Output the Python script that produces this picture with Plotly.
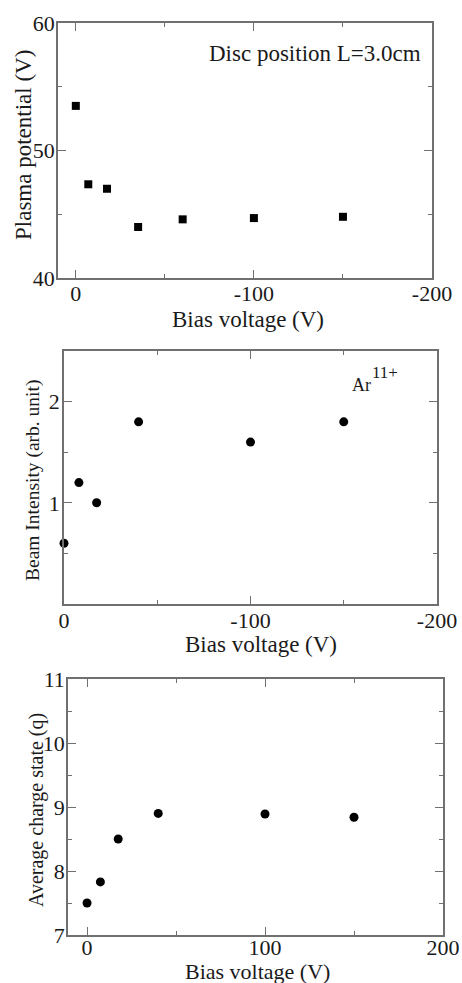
import plotly.graph_objects as go

# ---- data ----
bias_pp = [0, -7, -17.5, -35, -60, -100, -150]
plasma_potential = [53.5, 47.35, 47.0, 44.0, 44.6, 44.7, 44.8]

bias_bi = [0, -8, -17.5, -40, -100, -150]
beam_intensity = [0.6, 1.2, 1.0, 1.8, 1.6, 1.8]

bias_q = [0, 7.5, 17.5, 40, 100, 150]
avg_charge = [7.5, 7.83, 8.5, 8.9, 8.89, 8.84]

x1_ticks = [0, -100, -200]
x1_labels = ["0", "-100", "-200"]
y1_ticks = [40, 50, 60]
x2_ticks = [0, -100, -200]
x2_labels = ["0", "-100", "-200"]
y2_ticks = [1, 2]
x3_ticks = [0, 100, 200]
y3_ticks = [7, 8, 9, 10, 11]

W, H = 462, 983
FONT = "Liberation Serif"
AXIS_GRAY = "#707070"


def xdom(left, right):
    return [left / W, right / W]


def ydom(top, bottom):
    return [1 - bottom / H, 1 - top / H]


fig = go.Figure()
fig.add_trace(go.Scatter(x=bias_pp, y=plasma_potential, mode="markers",
                         marker=dict(symbol="square", size=8, color="black"),
                         xaxis="x", yaxis="y", cliponaxis=False))
fig.add_trace(go.Scatter(x=bias_bi, y=beam_intensity, mode="markers",
                         marker=dict(symbol="circle", size=9, color="black"),
                         xaxis="x2", yaxis="y2", cliponaxis=False))
fig.add_trace(go.Scatter(x=bias_q, y=avg_charge, mode="markers",
                         marker=dict(symbol="circle", size=9, color="black"),
                         xaxis="x3", yaxis="y3", cliponaxis=False))


def axis(domain, rng, tickvals, ticktext=None, minor=None, anchor=None, standoff=0):
    d = dict(domain=domain, range=rng, tickvals=tickvals, automargin=False,
             showgrid=False, zeroline=False, showline=True, mirror="ticks",
             linecolor=AXIS_GRAY, linewidth=1.5,
             ticks="inside", ticklen=8, tickwidth=1.2, tickcolor=AXIS_GRAY,
             tickfont=dict(family=FONT, size=22, color="#1a1a1a"),
             ticklabelstandoff=standoff, anchor=anchor)
    if ticktext is not None:
        d["ticktext"] = ticktext
    if minor is not None:
        d["minor"] = dict(tickvals=minor, ticks="inside", ticklen=4,
                          tickwidth=1.2, tickcolor=AXIS_GRAY, showgrid=False)
    return d


fig.update_layout(
    width=W, height=H,
    margin=dict(l=0, r=0, t=0, b=0, autoexpand=False),
    paper_bgcolor="white", plot_bgcolor="white",
    showlegend=False,
    xaxis=axis(xdom(58, 432), [10, -200], x1_ticks, x1_labels, [-50, -150], "y", -5),
    yaxis=axis(ydom(23, 278), [40, 60], y1_ticks, None, [45, 55], "x", -3),
    xaxis2=axis(xdom(64, 437), [0, -200], x2_ticks, x2_labels, [-50, -150], "y2", -4),
    yaxis2=axis(ydom(351, 604), [0, 2.5], y2_ticks, None, [0.5, 1.5], "x2", -2),
    xaxis3=axis(xdom(68, 443), [-10.7, 200], x3_ticks, None, [50, 150], "y3", -8),
    yaxis3=axis(ydom(679, 935), [7, 11], y3_ticks, None, [7.5, 8.5, 9.5, 10.5], "x3", -3),
)


def label(text, x, y, size, angle=0, xanchor="center"):
    fig.add_annotation(text=text, x=x / W, y=1 - y / H, xref="paper", yref="paper",
                       showarrow=False, textangle=angle, xanchor=xanchor,
                       yanchor="middle",
                       font=dict(family=FONT, size=size, color="#1a1a1a"))


# axis titles
label("Plasma potential (V)", 23, 145, 23, -90)
label("Bias voltage (V)", 248, 319, 23)
label("Beam Intensity (arb. unit)", 33, 481, 19.5, -90)
label("Bias voltage (V)", 261, 644, 23)
label("Average charge state (q)", 36, 810, 20, -90)
label("Bias voltage (V)", 257, 971, 22)

# in-plot notes
label("Ar", 350, 385, 18, xanchor="left")
label("11+", 370, 373, 17, xanchor="left")
label("Disc position L=3.0cm", 315, 53, 23)

fig.write_html("out.html")
